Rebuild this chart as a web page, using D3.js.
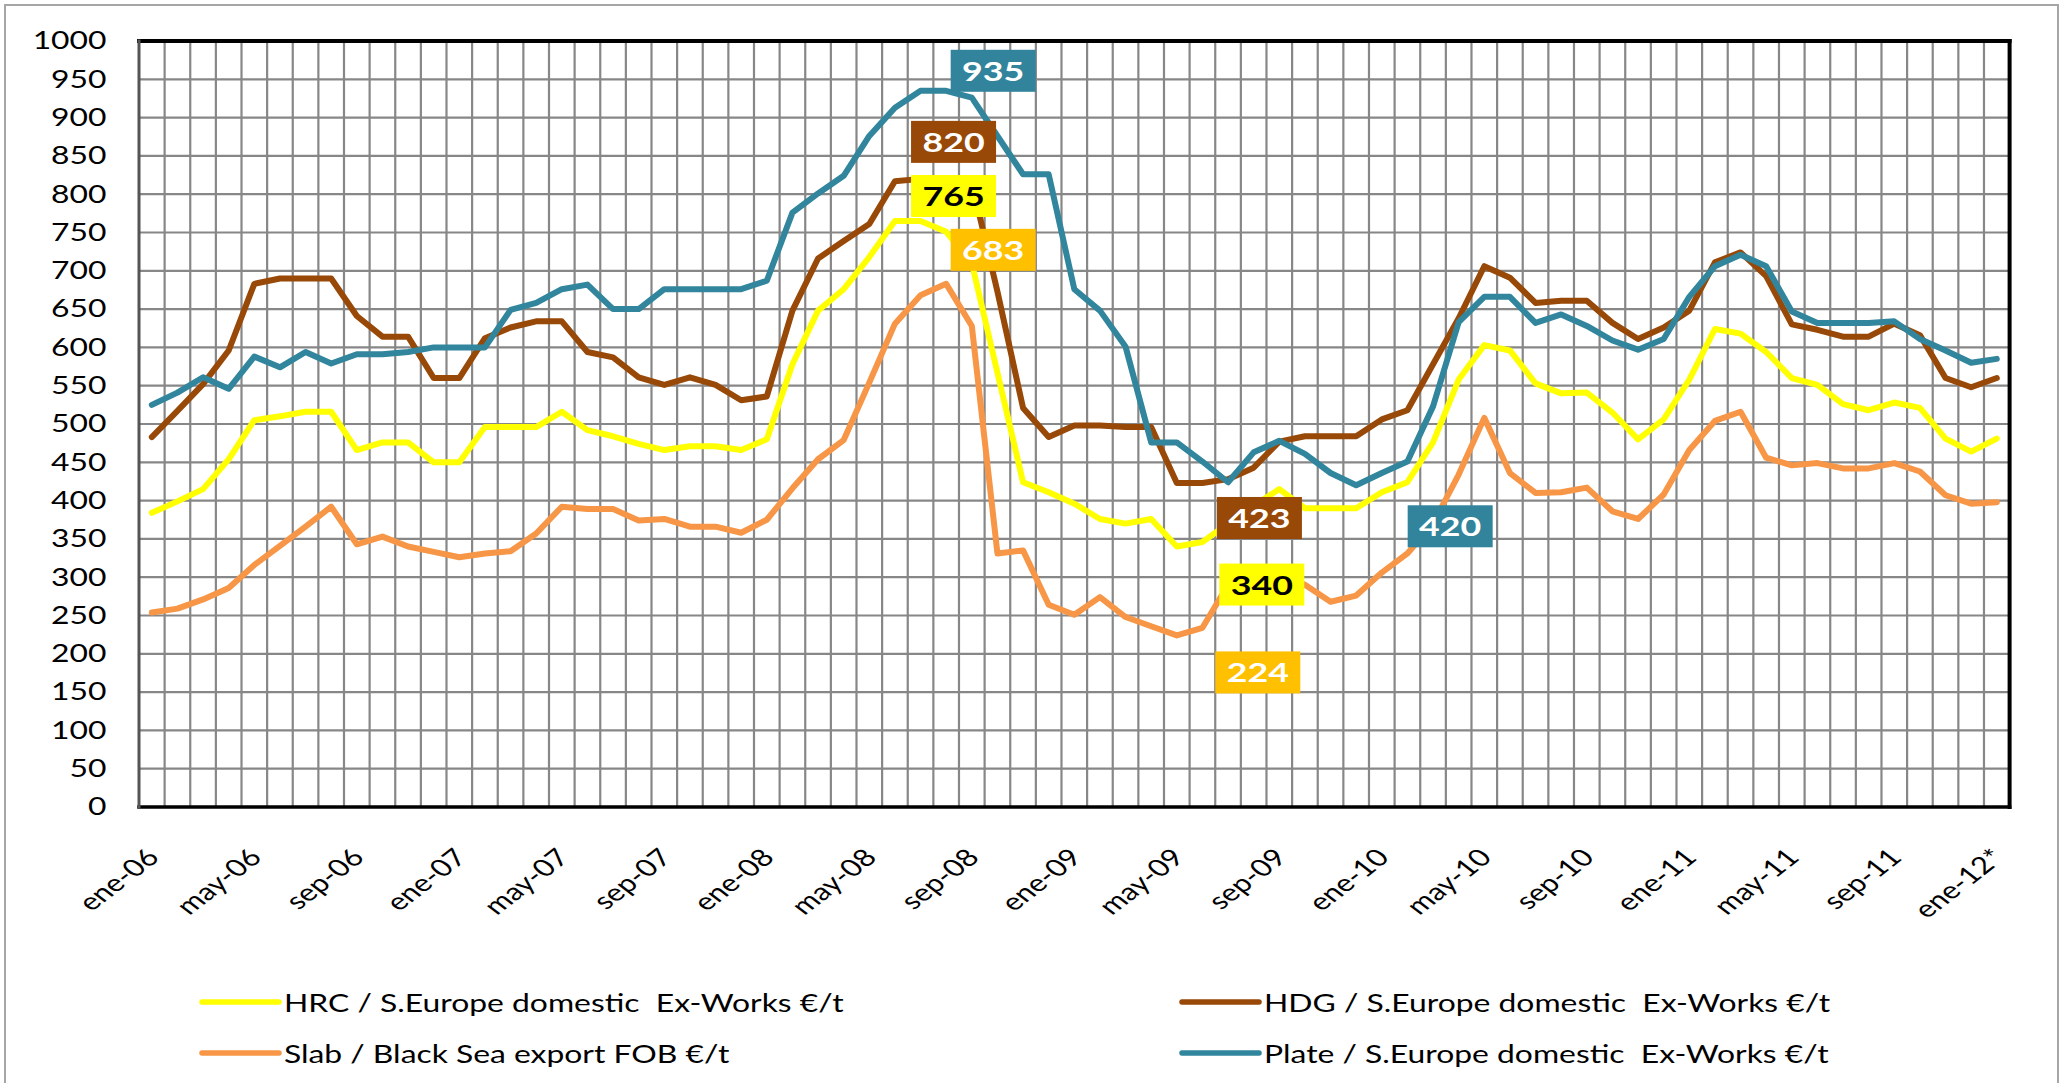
<!DOCTYPE html>
<html>
<head>
<meta charset="utf-8">
<script src="https://cdn.jsdelivr.net/npm/d3@7"></script>
<style>
  html, body { margin: 0; padding: 0; background: #fff; }
  svg { display: block; }
  text { font-family: Lato, "Noto Sans", sans-serif; }
</style>
</head>
<body>
<svg id="chart" width="2063" height="1083"></svg>
<script>
// monthly prices, ene-06 .. ene-12
const hrc = [384,399,415,454,505,510,516,516,466,476,
             476,450,450,496,496,496,516,492,484,474,
             466,471,471,466,480,578,648,676,718,765,
             765,751,710,567,424,411,396,376,370,376,
             340,346,370,393,415,390,390,390,411,424,
             476,558,603,596,553,540,541,515,480,506,
             558,624,618,594,560,551,526,518,528,521,
             481,464,481]
const hdg = [483,517,552,596,683,690,690,690,641,614,
             614,560,560,612,626,634,634,594,587,561,
             551,561,551,531,536,648,716,739,761,817,
             820,820,815,673,521,483,498,498,496,496,
             423,423,428,443,477,484,484,484,506,518,
             578,638,706,691,658,661,661,632,611,626,
             648,711,724,693,630,623,614,614,631,616,
             560,548,560]
const slab = [254,259,271,286,316,341,366,392,343,353,
              340,333,326,331,334,357,392,389,389,374,
              376,366,366,358,375,416,454,479,554,631,
              668,683,628,331,335,264,251,274,248,236,
              224,234,290,305,305,290,268,276,306,331,
              370,434,508,436,410,411,417,386,376,408,
              466,504,516,456,446,449,442,442,449,438,
              407,396,398]
const plate = [525,541,561,546,588,574,594,579,591,591,
               594,600,600,600,649,658,676,682,650,650,
               676,676,676,676,687,776,801,824,876,913,
               935,935,926,876,826,826,676,648,601,476,
               476,451,424,463,478,461,436,420,436,451,
               523,633,666,666,632,643,628,609,597,611,
               666,706,721,706,647,632,632,632,634,611,
               596,580,585]

const monthNames = ['ene','feb','mar','abr','may','jun','jul','ago','sep','oct','nov','dic']
const categories = d3.range(hrc.length).map(i => monthNames[i % 12] + '-' + String(6 + Math.floor(i / 12)).padStart(2, '0'))
const tickLabels = ['ene-06','may-06','sep-06','ene-07','may-07','sep-07','ene-08','may-08','sep-08',
                    'ene-09','may-09','sep-09','ene-10','may-10','sep-10','ene-11','may-11','sep-11','ene-12*']
const yTicks = d3.range(0, 1001, 50)

const series = [
  { key: 'hrc',   name: 'HRC / S.Europe domestic  Ex-Works €/t',   values: hrc,   color: '#FFFF00' },
  { key: 'hdg',   name: 'HDG / S.Europe domestic  Ex-Works €/t',   values: hdg,   color: '#984807' },
  { key: 'slab',  name: 'Slab / Black Sea export FOB €/t',          values: slab,  color: '#F79646' },
  { key: 'plate', name: 'Plate / S.Europe domestic  Ex-Works €/t', values: plate, color: '#31859C' },
]

// value callouts: series, point index, box offset from point (px)
const callouts = [
  { key: 'plate', idx: 31, fill: '#31849B', ink: '#fff', dx: 47,  dy: -20 },
  { key: 'hdg',   idx: 30, fill: '#984807', ink: '#fff', dx: 33,  dy: -37 },
  { key: 'hrc',   idx: 30, fill: '#FFFF00', ink: '#000', dx: 33,  dy: -25 },
  { key: 'slab',  idx: 31, fill: '#FFC000', ink: '#fff', dx: 47,  dy: -34 },
  { key: 'hdg',   idx: 41, fill: '#984807', ink: '#fff', dx: 57,  dy: 35 },
  { key: 'hrc',   idx: 40, fill: '#FFFF00', ink: '#000', dx: 85,  dy: 38 },
  { key: 'slab',  idx: 40, fill: '#FFC000', ink: '#fff', dx: 81,  dy: 37 },
  { key: 'plate', idx: 47, fill: '#31849B', ink: '#fff', dx: 94,  dy: 41 },
]

// the original picture is stretched horizontally, so is ours
const SX = 1.3
const svg = d3.select('#chart')

svg.append('rect')
  .attr('x', 5).attr('y', 5).attr('width', 2053).attr('height', 1090)
  .attr('fill', '#fff').attr('stroke', '#a6a6a6').attr('stroke-width', 2)

const g = svg.append('g').attr('transform', `scale(${SX},1)`)

const plotLeft = 139 / SX, plotRight = 2009.6 / SX, plotTop = 41, plotBottom = 807

const x = d3.scaleBand().domain(d3.range(categories.length)).range([plotLeft, plotRight])
const y = d3.scaleLinear().domain([0, 1000]).range([plotBottom, plotTop])
const cx = i => x(i) + x.bandwidth() / 2

// grid
g.selectAll('.hgrid')
  .data(yTicks.slice(1, -1))
  .enter().append('line')
  .attr('x1', plotLeft).attr('x2', plotRight)
  .attr('y1', d => y(d)).attr('y2', d => y(d))
  .attr('stroke', '#878787').attr('stroke-width', 2.2)
  .attr('vector-effect', 'non-scaling-stroke')

g.selectAll('.vgrid')
  .data(d3.range(1, categories.length))
  .enter().append('line')
  .attr('x1', d => x(d)).attr('x2', d => x(d))
  .attr('y1', plotTop).attr('y2', plotBottom)
  .attr('stroke', '#878787').attr('stroke-width', 2.2)
  .attr('vector-effect', 'non-scaling-stroke')

// plot frame
const frame = [
  { x1: plotLeft,  y1: plotTop,    x2: plotRight, y2: plotTop,    c: '#000', w: 4 },
  { x1: plotRight, y1: plotTop,    x2: plotRight, y2: plotBottom, c: '#000', w: 4 },
  { x1: plotLeft,  y1: plotBottom, x2: plotRight, y2: plotBottom, c: '#000', w: 3.5 },
  { x1: plotLeft,  y1: plotTop,    x2: plotLeft,  y2: plotBottom, c: '#555', w: 3 },
]
g.selectAll('.frame')
  .data(frame)
  .enter().append('line')
  .attr('x1', d => d.x1).attr('y1', d => d.y1)
  .attr('x2', d => d.x2).attr('y2', d => d.y2)
  .attr('stroke', d => d.c).attr('stroke-width', d => d.w)
  .attr('stroke-linecap', 'square')
  .attr('vector-effect', 'non-scaling-stroke')

// y axis
const yAxis = g.append('g')
  .attr('transform', `translate(${plotLeft},0)`)
  .call(d3.axisLeft(y).tickValues(yTicks).tickFormat(d3.format('d')).tickSize(0).tickPadding(25))
yAxis.select('.domain').remove()
yAxis.selectAll('text')
  .attr('font-family', 'Lato, sans-serif')
  .attr('font-size', 24.5)
  .attr('fill', '#000')

// x labels, every 4 months
g.selectAll('.xlab')
  .data(tickLabels)
  .enter().append('text')
  .attr('text-anchor', 'end')
  .attr('font-size', 24)
  .attr('fill', '#000')
  .attr('x', (d, k) => cx(k * 4) + 9 / SX)
  .attr('y', 859)
  .attr('transform', (d, k) => `rotate(-45,${cx(k * 4) + 9 / SX},859)`)
  .text(d => d)

// lines
const line = d3.line()
  .x((d, i) => cx(i))
  .y(d => y(d))

g.selectAll('.series')
  .data(series)
  .enter().append('path')
  .attr('d', d => line(d.values))
  .attr('fill', 'none')
  .attr('stroke', d => d.color)
  .attr('stroke-width', 6)
  .attr('stroke-linejoin', 'round')
  .attr('stroke-linecap', 'round')
  .attr('vector-effect', 'non-scaling-stroke')

// callouts
const byKey = Object.fromEntries(series.map(s => [s.key, s]))
const boxW = 85 / SX, boxH = 42
const co = g.selectAll('.callout')
  .data(callouts)
  .enter().append('g')
  .attr('transform', d => {
    const v = byKey[d.key].values[d.idx]
    return `translate(${cx(d.idx) + d.dx / SX},${y(v) + d.dy})`
  })
co.append('rect')
  .attr('x', -boxW / 2).attr('y', -boxH / 2)
  .attr('width', boxW).attr('height', boxH)
  .attr('fill', d => d.fill)
co.append('text')
  .attr('text-anchor', 'middle')
  .attr('y', 10)
  .attr('font-family', '"Liberation Sans", Arial, sans-serif')
  .attr('font-weight', 'bold')
  .attr('font-size', 27.5)
  .attr('fill', d => d.ink)
  .text(d => byKey[d.key].values[d.idx])

// legend
const legendPos = [
  { x: 202, y: 1012 },
  { x: 1182, y: 1012 },
  { x: 202, y: 1063 },
  { x: 1182, y: 1063 },
]
const lg = g.selectAll('.legend')
  .data(series)
  .enter().append('g')
  .attr('transform', (d, i) => `translate(${legendPos[i].x / SX},${legendPos[i].y})`)
lg.append('line')
  .attr('x1', 0).attr('x2', 77 / SX)
  .attr('y1', -10).attr('y2', -10)
  .attr('stroke', d => d.color)
  .attr('stroke-width', 5.5)
  .attr('stroke-linecap', 'round')
  .attr('vector-effect', 'non-scaling-stroke')
lg.append('text')
  .attr('x', 82 / SX)
  .attr('font-size', 24.5)
  .attr('fill', '#000')
  .style('white-space', 'pre')
  .text(d => d.name)
</script>
</body>
</html>
